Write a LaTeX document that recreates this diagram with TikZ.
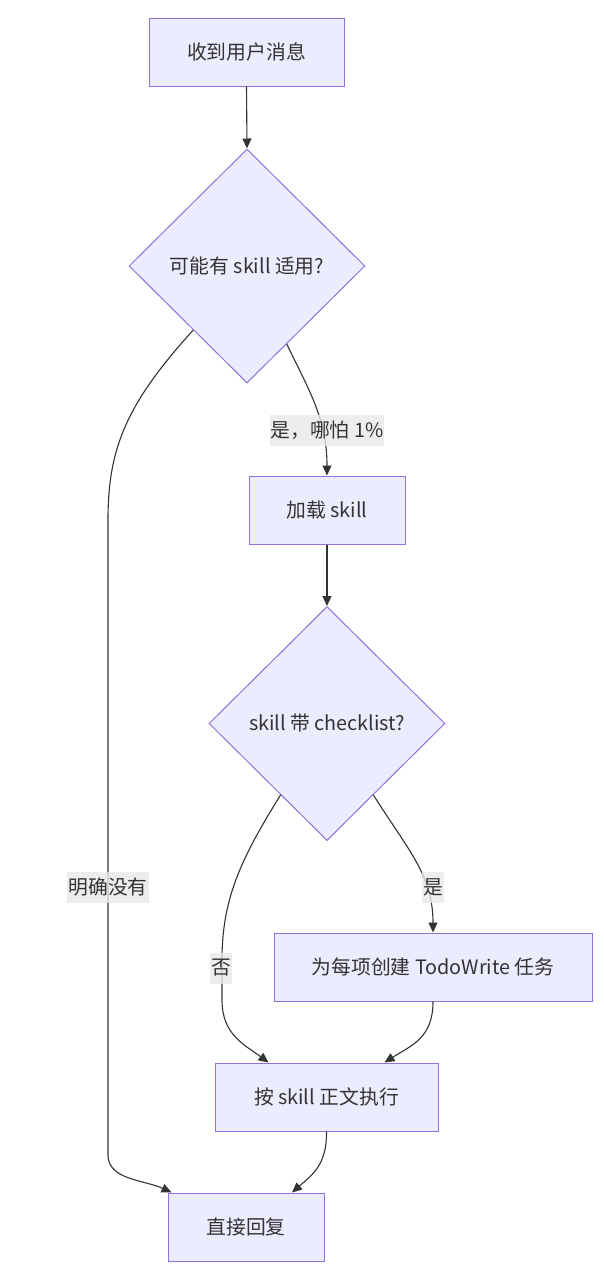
\documentclass[tikz,border=0pt]{standalone}
\usepackage{fontspec}
\setmainfont{Noto Sans CJK SC}
\usepackage{xcolor}
\definecolor{nodefill}{HTML}{ECECFF}
\definecolor{nodeline}{HTML}{9370DB}
\definecolor{ink}{HTML}{333333}
\definecolor{lblbg}{HTML}{E8E8E8}
\usepackage{tikz}
\usetikzlibrary{arrows.meta, shapes.geometric}

\tikzset{
  procbox/.style={draw=nodeline, fill=nodefill, line width=1pt,
        minimum height=68pt, inner sep=0pt, text=ink},
  decision/.style={diamond, draw=nodeline, fill=nodefill, line width=1pt,
        aspect=1, inner sep=0pt, minimum width=236pt, minimum height=234pt, text=ink},
  edgelabel/.style={fill=lblbg, fill opacity=0.8, text opacity=1, text=ink,
        inner xsep=1pt, inner ysep=0pt, minimum height=31pt},
  flow/.style={draw=ink, line width=1.1pt, -{Triangle[length=10pt,width=9pt]}}
}

\begin{document}
\begin{tikzpicture}[x=1pt, y=-1pt, font=\fontsize{19.8}{23}\selectfont]

  \useasboundingbox (0,0) rectangle (603,1267);

  % nodes
  \node[procbox, minimum width=195pt] (recv) at (246.5,52) {收到用户消息};
  \node[decision] (maybe) at (247,266) {可能有 skill 适用?};
  \node[procbox, minimum width=156pt] (load) at (327,510) {加载 skill};
  \node[decision] (check) at (327,723.5) {skill 带 checklist?};
  \node[procbox, minimum width=318pt] (todo) at (433,967) {为每项创建 TodoWrite 任务};
  \node[procbox, minimum width=223pt] (exec) at (326.5,1097) {按 skill 正文执行};
  \node[procbox, minimum width=156pt] (reply) at (246,1227) {直接回复};

  % connectors
  \draw[flow] (recv.south) -- (maybe.north);
  \draw[flow] (maybe.-63) .. controls (310,392) and (327,420) .. (load.north);
  \draw[flow] (maybe.-130) .. controls (125,405) and (108,450) .. (108,520)
    -- (108,1155) .. controls (108,1180) and (145,1180) .. ([xshift=4pt]reply.north west);
  \draw[flow] (load.south) -- (check.north);
  \draw[flow] (check.-57) .. controls (408,850) and (433,875) .. (todo.north);
  \draw[flow] (check.-123) .. controls (240,860) and (222,900) .. (222,960)
    -- (222,1000) .. controls (222,1035) and (245,1045) .. ([xshift=-58pt]exec.north);
  \draw[flow] (todo.south) .. controls (433,1038) and (412,1045) .. ([xshift=58pt]exec.north);
  \draw[flow] (exec.south) .. controls (327,1165) and (312,1175) .. ([xshift=46pt]reply.north);

  % edge labels
  \node[edgelabel] (yes1) at (327,430.5) {是，哪怕 1\%};
  \node[edgelabel] (none) at (108,887) {明确没有};
  \node[edgelabel] (yes2) at (433,887) {是};
  \node[edgelabel] (no) at (221,968) {否};

\end{tikzpicture}
\end{document}
